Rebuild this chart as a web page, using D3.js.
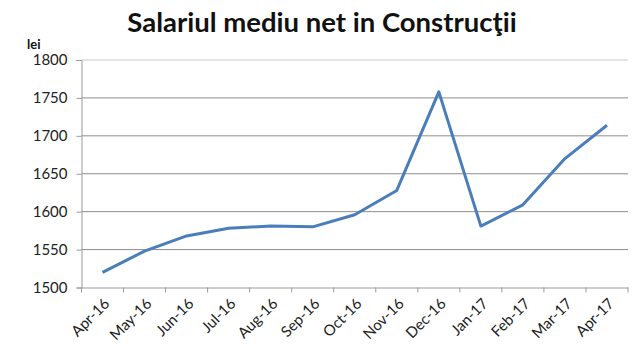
<!DOCTYPE html>
<html><head><meta charset="utf-8">
<script src="https://cdn.jsdelivr.net/npm/d3@7"></script>
<style>body{margin:0;background:#fff}svg{display:block}</style>
</head><body>
<svg id="c" width="640" height="360"></svg>
<script>
const categories = ["Apr-16","May-16","Jun-16","Jul-16","Aug-16","Sep-16","Oct-16","Nov-16","Dec-16","Jan-17","Feb-17","Mar-17","Apr-17"];
const values = [1520,1548,1568,1578,1581,1580,1596,1628,1758,1581,1609,1670,1714];
const yTicks = [1500,1550,1600,1650,1700,1750,1800];

const svg = d3.select("#c");
const m = {l:81.5, r:628, t:60, b:287.5};
const font = "Lato, 'Open Sans', sans-serif";

const x = d3.scaleBand().domain(categories).range([m.l, m.r]);
const y = d3.scaleLinear().domain([1500,1800]).range([m.b, m.t]);

// gridlines
svg.append("g").selectAll("line").data(yTicks.slice(1)).join("line")
  .attr("x1", m.l).attr("x2", m.r)
  .attr("y1", d=>y(d)).attr("y2", d=>y(d))
  .attr("stroke", d=> d===1800 ? "#c8c8c8" : "#8c8c8c").attr("stroke-width",1);

// y axis
const ya = svg.append("g").attr("transform",`translate(${m.l},0)`)
  .call(d3.axisLeft(y).tickValues(yTicks).tickSize(5).tickPadding(9).tickFormat(d3.format("d")));
ya.select(".domain").attr("stroke","#9a9a9a");
ya.selectAll(".tick line").attr("stroke","#9a9a9a");
ya.selectAll("text").attr("font-family",font).attr("font-size",15).attr("fill","#222");

// x axis
const xa = svg.append("g").attr("transform",`translate(0,${m.b})`)
  .call(d3.axisBottom(x).tickSize(0).tickFormat(""));
xa.select(".domain").attr("stroke","#9a9a9a");
const bounds = categories.map(c=>x(c)).concat([m.r]);
svg.append("g").selectAll("line").data(bounds).join("line")
  .attr("x1",d=>d).attr("x2",d=>d).attr("y1",m.b).attr("y2",m.b+5)
  .attr("stroke","#9a9a9a");
svg.append("g").selectAll("text").data(categories).join("text")
  .attr("transform", d=>`translate(${x(d)+x.bandwidth()/2+8},${m.b+17}) rotate(-45)`)
  .attr("text-anchor","end").attr("font-family",font).attr("font-size",15).attr("fill","#222")
  .text(d=>d);

// line
const line = d3.line().x((d,i)=>x(categories[i])+x.bandwidth()/2).y(d=>y(d));
svg.append("path").datum(values).attr("d",line)
  .attr("fill","none").attr("stroke","#4a7ebb").attr("stroke-width",3).attr("stroke-linejoin","round");

// title
svg.append("text").attr("x",322).attr("y",32).attr("text-anchor","middle")
  .attr("font-family",font).attr("font-weight","bold").attr("font-size",27.5).attr("fill","#111")
  .text("Salariul mediu net in Construcţii");
svg.append("text").attr("x",27).attr("y",49)
  .attr("font-family",font).attr("font-weight","bold").attr("font-size",13).attr("fill","#111")
  .text("lei");
</script>
</body></html>
